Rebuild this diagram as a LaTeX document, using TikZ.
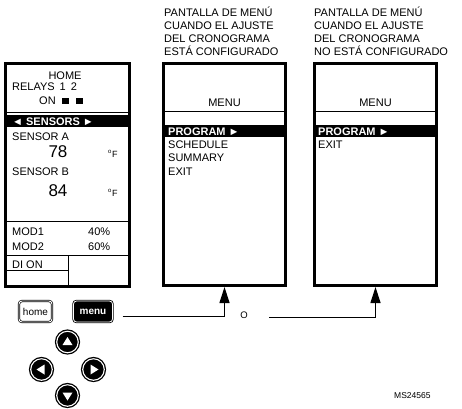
\documentclass[tikz,border=0pt]{standalone}
\usepackage{fontspec}
\setmainfont{Liberation Sans}
\usetikzlibrary{arrows.meta,calc}
\begin{document}
\begin{tikzpicture}[x=1pt,y=-1pt,
  every node/.style={inner sep=0pt, font=\fontsize{11}{13}\selectfont},
  panelbox/.style={draw, line width=3pt, minimum height=222.5},
  thinline/.style={line width=0.8pt},
  bar/.style={fill=black},
  lbl/.style={anchor=base west},
  hilite/.style={anchor=base west, text=white, font=\fontsize{11}{13}\selectfont\bfseries},
  big/.style={anchor=base, font=\fontsize{17}{20}\selectfont},
  unit/.style={anchor=base west, font=\fontsize{9}{10}\selectfont},
  conn/.style={line width=1.2pt, -{Triangle[length=16pt,width=10pt]}},
  btn/.style={rounded corners=3pt, minimum height=21, font=\fontsize{10}{12}\selectfont},
  pad/.style={circle, fill=black, draw=black, double=white, double distance=1.1pt, line width=1.3pt, minimum size=21.5pt},
  tri/.style={fill=white}
]
\useasboundingbox (0,0) rectangle (462,408);

% ---------- titles ----------
\node[lbl] (t1a) at (164,16.7) {PANTALLA DE MENÚ};
\node[lbl] (t1b) at (164,29.5) {CUANDO EL AJUSTE};
\node[lbl] (t1c) at (164,42.3) {DEL CRONOGRAMA};
\node[lbl] (t1d) at (164,55.1) {ESTÁ CONFIGURADO};
\node[lbl] (t2a) at (314,16.7) {PANTALLA DE MENÚ};
\node[lbl] (t2b) at (314,29.5) {CUANDO EL AJUSTE};
\node[lbl] (t2c) at (314,42.3) {DEL CRONOGRAMA};
\node[lbl] (t2d) at (314,55.1) {NO ESTÁ CONFIGURADO};

% ---------- left (home) panel ----------
\fill[bar] (7,115) rectangle (127.5,127);
\draw[thinline] (7,112.7) -- (128,112.7);
\draw[thinline] (7,221.7) -- (128,221.7);
\draw[thinline] (7,255) -- (128,255);
\draw[thinline] (7,270) -- (68,270);
\draw[thinline] (68,255) -- (68,284.5);
\node[panelbox, minimum width=124, minimum height=223] (home) at (67.5,174.5) {};

\node[anchor=base] (hm) at (65,79) {HOME};
\node[lbl] (rel) at (12,90.7) {RELAYS\hspace{0.45em}1\hspace{0.45em}2};
\node[lbl] (on) at (39,104) {ON};
\fill (62,97.5) rectangle (68.5,103.8);
\fill (76,97.5) rectangle (82.5,103.8);
\node[hilite] (sens) at (12,125) {◄ SENSORS ►};
\node[lbl] (sa) at (12,140) {SENSOR A};
\node[big] (va) at (58,157) {78};
\node[unit] (ua) at (108,157) {\textsuperscript{o}F};
\node[lbl] (sb) at (12,175) {SENSOR B};
\node[big] (vb) at (58,196) {84};
\node[unit] (ub) at (108,196) {\textsuperscript{o}F};
\node[lbl] (m1) at (12,235) {MOD1};
\node[lbl] (p1) at (88,235) {40\%};
\node[lbl] (m2) at (12,250) {MOD2};
\node[lbl] (p2) at (88,250) {60\%};
\node[lbl] (di) at (12,268.5) {DI ON};

% ---------- middle panel ----------
\fill[bar] (165,125) rectangle (284,137);
\draw[thinline] (165,111.7) -- (284,111.7);
\node[panelbox, minimum width=122] (mid) at (224.5,174.25) {};
\node[anchor=base] (mmenu) at (224.5,106) {MENU};
\node[hilite] (mprog) at (168,135) {PROGRAM ►};
\node[lbl] (msch) at (168,148.3) {SCHEDULE};
\node[lbl] (msum) at (168,161.6) {SUMMARY};
\node[lbl] (mexit) at (168,175) {EXIT};

% ---------- right panel ----------
\fill[bar] (316,125) rectangle (435,137);
\draw[thinline] (316,111.7) -- (435,111.7);
\node[panelbox, minimum width=122] (rgt) at (375.5,174.25) {};
\node[anchor=base] (rmenu) at (375.5,106) {MENU};
\node[hilite] (rprog) at (318,135) {PROGRAM ►};
\node[lbl] (rexit) at (318,148.3) {EXIT};

% ---------- buttons ----------
\node[btn, minimum width=33, draw, double=white, double distance=0.9pt, line width=0.7pt, fill=white] (homebtn) at (35.5,311.5) {home};
\node[btn, minimum width=39, draw=black, double=white, double distance=0.8pt, line width=0.8pt, fill=black, text=white,
      font=\fontsize{10}{12}\selectfont\bfseries] (menubtn) at (93,311.5) {menu};

% ---------- direction pad ----------
\node[pad] (up) at (67.5,342) {};
\node[pad] (lf) at (41.5,369.5) {};
\node[pad] (rt) at (93.5,369.5) {};
\node[pad] (dn) at (67.5,395.5) {};
\fill[tri] ($(up)+(-5,3)$) -- ($(up)+(5,3)$) -- ($(up)+(0,-5)$) -- cycle;
\fill[tri] ($(dn)+(-5,-3)$) -- ($(dn)+(5,-3)$) -- ($(dn)+(0,5)$) -- cycle;
\fill[tri] ($(lf)+(3,-5)$) -- ($(lf)+(3,5)$) -- ($(lf)+(-5,0)$) -- cycle;
\fill[tri] ($(rt)+(-3,-5)$) -- ($(rt)+(-3,5)$) -- ($(rt)+(5,0)$) -- cycle;

% ---------- connectors ----------
\coordinate (s1) at (122.7,316.7);
\coordinate (s2) at (269,317.7);
\draw[conn] (s1) -| (mid.south);
\draw[conn] (s2) -| (rgt.south);
\node[anchor=base, font=\fontsize{9.5}{10}\selectfont] (orword) at (244,318.5) {O};

\node[anchor=base west, font=\fontsize{8.5}{9}\selectfont] (code) at (394,398) {MS24565};
\end{tikzpicture}
\end{document}
